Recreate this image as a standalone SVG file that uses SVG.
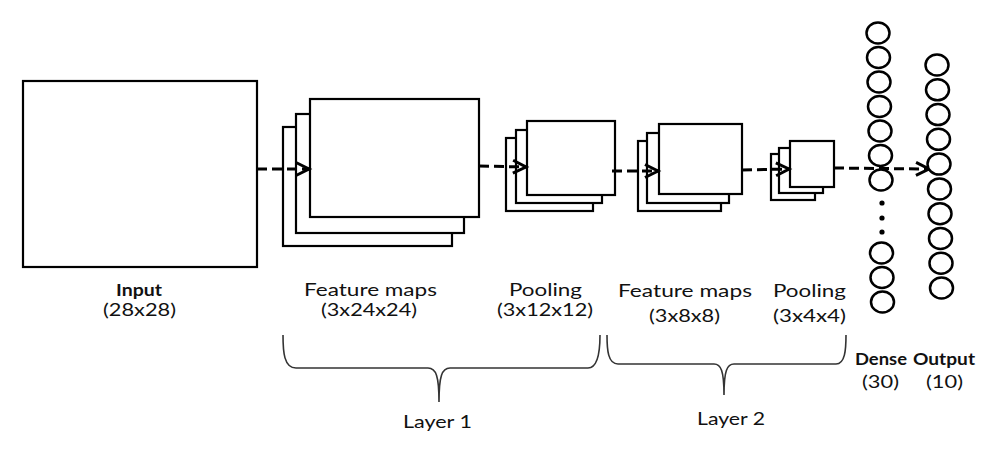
<svg xmlns="http://www.w3.org/2000/svg" width="998" height="470" viewBox="0 0 998 470">
<defs>
<style>
.box{fill:#fff;stroke:#000;stroke-width:2.2}
.conn{fill:none;stroke:#000;stroke-width:3;stroke-dasharray:10 5}
.neu{fill:#fff;stroke:#000;stroke-width:2.5}
.dot{fill:#000}
.brace{fill:none;stroke:#333;stroke-width:1.6}
.lbl{font-family:Lato,"Open Sans","Liberation Sans",sans-serif;font-size:17px;fill:#111}
.bold{font-weight:bold}
</style>
<marker id="arr" markerUnits="userSpaceOnUse" markerWidth="18" markerHeight="18" refX="14" refY="8" orient="auto" viewBox="0 0 18 16">
<path d="M1,1.5 L14,8 L1,14.5" fill="none" stroke="#000" stroke-width="3"/>
</marker>
</defs>
<rect width="998" height="470" fill="#fff"/>

<g id="input">
<rect class="box" x="23" y="81" width="234" height="186"/>
<text class="lbl bold" x="116" y="296" textLength="46" lengthAdjust="spacingAndGlyphs">Input</text>
<text class="lbl" x="103" y="316" textLength="73" lengthAdjust="spacingAndGlyphs">(28x28)</text>
</g>

<g id="featuremaps1">
<rect class="box" x="283" y="127" width="169" height="119"/>
<rect class="box" x="296" y="114" width="168" height="119"/>
<rect class="box" x="310" y="99" width="169" height="118"/>
<text class="lbl" x="304" y="296" textLength="133" lengthAdjust="spacingAndGlyphs">Feature maps</text>
<text class="lbl" x="321" y="316" textLength="96" lengthAdjust="spacingAndGlyphs">(3x24x24)</text>
</g>

<g id="pooling1">
<rect class="box" x="506" y="138" width="87" height="73"/>
<rect class="box" x="516" y="130" width="86" height="73"/>
<rect class="box" x="527" y="121" width="88" height="74"/>
<text class="lbl" x="509" y="296" textLength="73" lengthAdjust="spacingAndGlyphs">Pooling</text>
<text class="lbl" x="497" y="316" textLength="96" lengthAdjust="spacingAndGlyphs">(3x12x12)</text>
</g>

<g id="featuremaps2">
<rect class="box" x="638" y="141" width="83" height="70"/>
<rect class="box" x="647" y="133" width="82" height="70"/>
<rect class="box" x="659" y="124" width="83" height="70"/>
<text class="lbl" x="618" y="297" textLength="134" lengthAdjust="spacingAndGlyphs">Feature maps</text>
<text class="lbl" x="649" y="322" textLength="71" lengthAdjust="spacingAndGlyphs">(3x8x8)</text>
</g>

<g id="pooling2">
<rect class="box" x="771" y="154" width="44" height="46"/>
<rect class="box" x="779" y="148" width="44" height="45"/>
<rect class="box" x="790" y="141" width="44" height="46"/>
<text class="lbl" x="773" y="297" textLength="73" lengthAdjust="spacingAndGlyphs">Pooling</text>
<text class="lbl" x="773" y="322" textLength="73" lengthAdjust="spacingAndGlyphs">(3x4x4)</text>
</g>

<g id="connectors">
<path class="conn" d="M257,169 L309,169" marker-end="url(#arr)"/>
<path class="conn" d="M479,166 L526,167" marker-end="url(#arr)"/>
<path class="conn" d="M612,171 L658,171" marker-end="url(#arr)"/>
<path class="conn" d="M742,170 L789,169" marker-end="url(#arr)"/>
<path class="conn" d="M834,168 L929,169" marker-end="url(#arr)"/>
</g>

<g id="dense">
<ellipse class="neu" cx="878" cy="33" rx="11.5" ry="10.5"/>
<ellipse class="neu" cx="878.5" cy="57.5" rx="11.5" ry="10.5"/>
<ellipse class="neu" cx="879" cy="82" rx="11.5" ry="10.5"/>
<ellipse class="neu" cx="879.5" cy="106.5" rx="11.5" ry="10.5"/>
<ellipse class="neu" cx="880" cy="131" rx="11.5" ry="10.5"/>
<ellipse class="neu" cx="880.5" cy="155.5" rx="11.5" ry="10.5"/>
<ellipse class="neu" cx="881" cy="180" rx="11.5" ry="10.5"/>
<circle class="dot" cx="882" cy="203" r="2.6"/>
<circle class="dot" cx="882" cy="218" r="2.6"/>
<circle class="dot" cx="882" cy="232" r="2.6"/>
<ellipse class="neu" cx="881.5" cy="253" rx="11.5" ry="10.5"/>
<ellipse class="neu" cx="882" cy="277.5" rx="11.5" ry="10.5"/>
<ellipse class="neu" cx="882.5" cy="302" rx="11.5" ry="10.5"/>
<text class="lbl bold" x="855" y="365" textLength="52" lengthAdjust="spacingAndGlyphs">Dense</text>
<text class="lbl" x="862" y="388" textLength="37" lengthAdjust="spacingAndGlyphs">(30)</text>
</g>

<g id="output">
<ellipse class="neu" cx="937" cy="65" rx="11.5" ry="10.5"/>
<ellipse class="neu" cx="937.5" cy="89.8" rx="11.5" ry="10.5"/>
<ellipse class="neu" cx="938" cy="114.6" rx="11.5" ry="10.5"/>
<ellipse class="neu" cx="938.5" cy="139.3" rx="11.5" ry="10.5"/>
<ellipse class="neu" cx="939" cy="164.1" rx="11.5" ry="10.5"/>
<ellipse class="neu" cx="939.5" cy="188.9" rx="11.5" ry="10.5"/>
<ellipse class="neu" cx="940" cy="213.7" rx="11.5" ry="10.5"/>
<ellipse class="neu" cx="940.5" cy="238.4" rx="11.5" ry="10.5"/>
<ellipse class="neu" cx="941" cy="263.2" rx="11.5" ry="10.5"/>
<ellipse class="neu" cx="941.5" cy="288" rx="11.5" ry="10.5"/>
<text class="lbl bold" x="913" y="365" textLength="62" lengthAdjust="spacingAndGlyphs">Output</text>
<text class="lbl" x="926" y="388" textLength="37" lengthAdjust="spacingAndGlyphs">(10)</text>
</g>

<g id="layer1">
<path class="brace" d="M283,335 C283,352 284,368 296,368 L428,368 C436,368 439,376 439,402 C439,376 442,368 450,368 L588,368 C598,368 600,352 600,335"/>
<text class="lbl" x="403" y="428" textLength="69" lengthAdjust="spacingAndGlyphs">Layer 1</text>
</g>

<g id="layer2">
<path class="brace" d="M607,335 C607,350 608,364 618,364 L714,364 C721,364 724,371 724,395 C724,371 727,364 734,364 L836,364 C845,364 846,350 846,335"/>
<text class="lbl" x="697" y="425" textLength="68" lengthAdjust="spacingAndGlyphs">Layer 2</text>
</g>
</svg>
